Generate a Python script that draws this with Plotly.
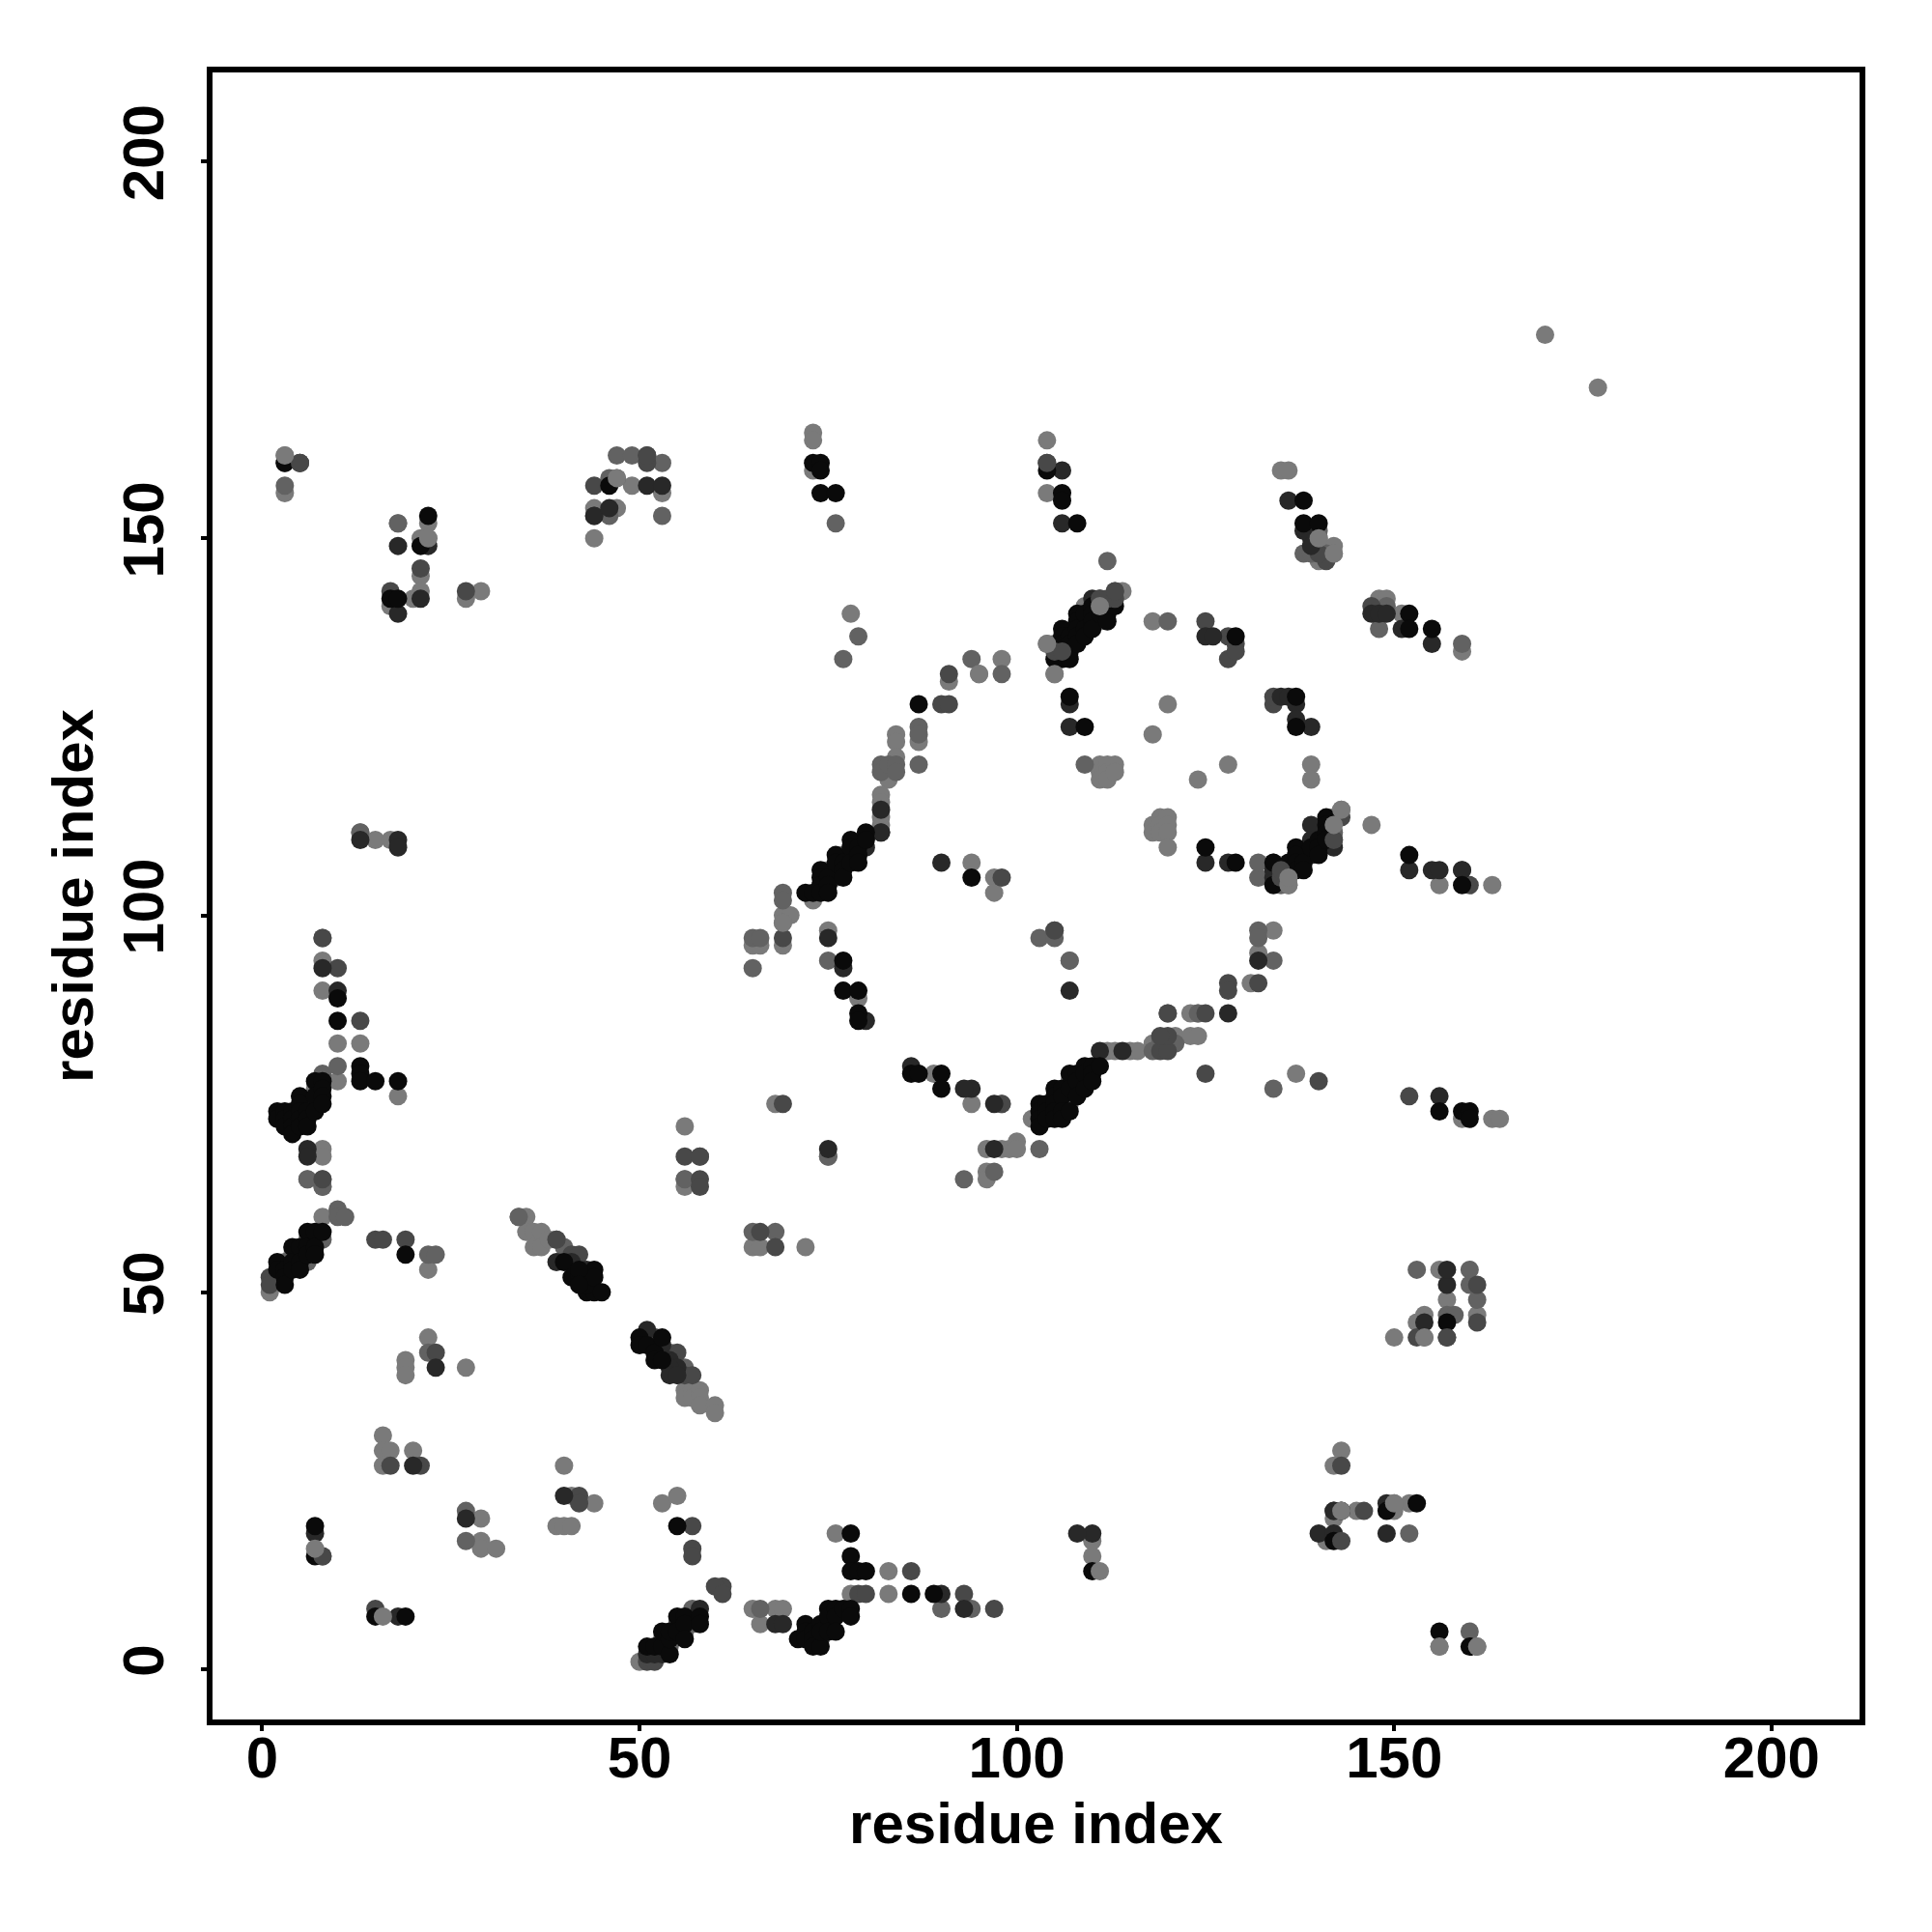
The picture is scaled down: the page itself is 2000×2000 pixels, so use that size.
import plotly.graph_objects as go

axis_ticks = [0, 50, 100, 150, 200]
axis_title = "residue index"

shade_levels = [122, 98, 72, 40, 10]

contacts_light = [
 (1,50),(8,60),(22,53),(22,44),(19,41),(19,40),(19,39),(27,40),(16,31),(16,29),(16,27),(17,29),(20,29),
 (29,20),(29,17),(29,16),(31,16),(40,27),(41,23),(39,19),(40,19),(41,19),(44,22),(53,22),(55,23),(34,60),(35,60),
 (35,58),(36,58),(36,56),(37,58),(37,56),(38,57),(56,37),(56,36),(57,37),(57,36),(58,37),(58,36),(58,35),(60,35),(60,34),
 (65,56),(66,56),(72,56),(50,1),(65,8),(66,6),(68,8),(69,8),(76,18),(78,10),(83,13),(83,10),(110,15),(110,17),
 (8,94),(8,90),(10,83),(13,83),(10,78),(18,76),(13,111),(15,110),(17,110),(8,69),(8,68),(6,65),(8,64),
 (56,72),(56,65),(56,64),(65,96),(66,96),(69,100),(70,100),(69,99),(69,96),(73,102),(75,98),(79,89),(89,79),(94,75),(98,75),(68,75),
 (75,68),(96,69),(98,69),(99,69),(100,70),(100,69),(96,66),(96,65),(102,73),(112,82),(113,82),(115,82),(116,82),
 (118,83),(121,84),(123,84),(124,84),(123,87),(124,87),(131,91),(132,95),(134,98),(137,79),(136,104),(136,105),
 (147,112),(156,104),(163,104),(163,73),(164,73),(159,73),(134,107),
 (107,94),(97,105),(97,103),(94,107),(118,139),(120,128),(118,124),(124,118),(128,120),(139,120),(139,118),
 (84,124),(84,123),(87,123),(83,118),(84,121),(82,116),(82,115),(82,113),(82,112),(78,140),
 (73,164),(73,163),(73,159),(104,163),(104,156),(105,132),(95,132),(98,134),(91,131),
 (111,120),(111,119),(111,118),(112,120),(112,119),(112,118),(113,120),(113,119),(114,143),(104,136),
 (118,112),(118,111),(119,113),(119,112),(119,111),(120,113),(120,112),(120,111),(120,109),
 (135,159),(136,159),(140,150),(140,149),(140,147),(142,149),(142,148),(148,142),(149,142),(148,141),(151,140),(159,135),
 (3,156),(18,152),(22,152),(22,150),(21,150),(21,145),(21,143),(17,141),(20,142),(27,142),(29,143),
 (44,154),(44,150),(47,154),(49,157),(53,156),(3,161),
 (143,114),(142,113),(142,111),(143,29),(142,27),(145,21),(142,20),(141,17),(150,22),(150,21),(152,22),(157,49),(161,47),
 (150,44),(154,44),(154,47),(156,53),(153,46),(156,3),(161,3),(177,170),(170,177),
 (7,77),(7,75),(4,55),(6,57),(5,55),(7,57),(77,108),(75,106),(107,78),(106,75),(108,77),(111,139),(109,141),
]

contacts_mid = [
 (10,61),(10,60),(22,42),(22,55),(23,55),(11,60),(27,21),(27,17),(34,60),(39,57),(40,56),(52,44),(54,42),(56,40),
 (65,58),(68,58),(66,8),(90,8),(94,8),(8,79),(10,80),(13,111),(56,65),(58,68),(69,103),(65,97),(65,93),(66,97),
 (75,94),(69,102),(103,97),(105,97),(107,94),(132,98),(134,94),(132,105),(132,107),(105,98),
 (124,87),(109,120),(103,69),(97,66),(93,65),(118,82),(121,83),(119,83),(120,87),(57,8),(57,6),
 (77,134),(79,137),(87,125),(87,124),(87,120),(82,120),(82,119),(83,120),(84,120),(94,134),(98,132),(120,139),(105,136),
 (3,160),(3,157),(5,160),(18,152),(46,158),(47,158),(46,153),(47,161),(49,161),(53,160),(53,153),(159,136),(148,138),(149,141),
 (138,148),(139,148),(141,148),(132,97),(153,53),(160,53),(160,51),(161,49),(157,47),(158,47),(143,21),(152,18),(160,5),
 (76,152),(113,142),(112,147),(84,119),(75,68),(6,65),(8,65),(8,64),(142,111),(135,104),(8,97),(134,77),(140,151),
 (53,4),(55,6),(57,7),(54,3),(56,5),(3,54),(6,54),(8,57),(78,108),(76,106),(76,105),(107,75),(109,78),
]

contacts_dark = [
 (1,52),(1,51),(15,8),(8,15),(15,57),(16,57),(19,57),(23,42),(17,27),(21,27),(42,23),(42,22),(41,55),(42,55),(39,57),
 (52,44),(55,42),(56,39),(57,39),(57,19),(57,16),(57,15),(61,11),(60,11),(51,1),(52,1),(61,10),(66,58),(68,56),
 (86,13),(79,10),(80,10),(93,10),(97,8),(8,97),(10,93),(13,86),(56,68),(58,65),(58,64),(58,68),(8,65),(69,75),(69,97),
 (98,105),(105,98),(98,75),(120,87),(125,87),(128,91),(128,90),(132,91),(119,82),(120,82),(120,84),(119,84),(125,79),(140,78),
 (51,161),(51,160),(44,157),(44,153),(17,143),(21,146),(27,143),(5,160),(104,160),(90,128),(91,128),(91,132),(113,143),(111,142),
 (125,139),(128,134),(82,111),(143,113),(142,110),(135,105),(140,111),(135,106),(134,128),(134,129),(161,51),(157,44),(153,44),(161,46),(146,21),
 (143,27),(160,104),(147,141),(141,147),(140,148),(129,136),(129,135),(128,137),(159,106),(152,76),
]

contacts_dark_strong = [
 (7,18),(18,7),(20,27),(27,20),(23,40),(40,23),(39,54),(43,53),(41,54),(43,52),(51,45),(53,43),(54,41),(55,40),(54,40),(54,39),(55,39),
 (53,2),(51,2),(52,2),(74,4),(58,8),(68,6),(69,6),(90,10),(93,8),(110,18),(108,18),(149,22),(142,21),(140,18),(142,18),(149,18),
 (13,110),(18,110),(18,109),(8,93),(10,90),(6,69),(6,68),(97,69),(97,75),(94,77),(93,77),(86,80),(80,86),(75,69),(75,97),(77,93),(90,107),(107,90),
 (128,87),(132,94),(111,82),(114,82),(136,155),(138,151),(139,150),(139,149),(147,140),(148,140),(149,140),(151,138),(155,136),
 (18,149),(18,140),(21,142),(22,149),(44,153),(46,154),(51,157),(53,157),(106,159),(106,152),(107,128),(107,125),(125,137),(126,137),(135,129),(136,129),(137,128),(137,126),(139,125),
 (128,107),(125,107),(134,106),(134,105),(139,112),(139,110),(139,108),(138,108),(142,109),(155,106),(156,106),(152,106),(159,106),(156,76),(157,51),(157,53),(154,46),(142,21),(143,21),
 (82,111),(82,114),(80,109),(110,142),(109,139),
]

contacts_black = [
 (2,54),(2,53),(3,53),(3,52),(3,51),(4,56),(4,54),(4,53),(5,56),(5,54),(5,53),(6,58),(6,56),(6,55),(7,58),(7,56),(7,55),(8,58),
 (7,19),(7,15),(15,7),(19,7),(19,55),(40,54),(41,52),(42,52),(43,50),(44,53),(44,50),(43,51),(44,52),(42,53),(42,51),(45,50),
 (50,44),(50,43),(51,43),(52,42),(52,41),(53,44),(53,41),(55,19),(51,3),(52,3),(53,3),(53,5),(54,2),(54,4),(54,5),(55,7),(55,5),(56,7),(56,6),(56,4),(58,7),(58,6),
 (71,4),(72,6),(72,5),(72,4),(73,5),(73,4),(73,3),(74,3),(74,6),(74,5),(75,8),(75,7),(75,5),(76,8),(76,7),(76,5),(77,8),(78,8),(78,7),
 (78,18),(78,15),(78,13),(79,13),(80,13),(86,10),(89,10),(110,13),(142,17),(153,22),(149,21),(156,5),(160,3),(157,46),
 (2,74),(2,73),(3,74),(3,73),(3,72),(4,74),(4,73),(4,72),(4,71),(5,76),(5,75),(5,74),(5,73),(5,72),(6,74),(6,73),(6,72),(7,78),(7,76),(7,74),(8,78),(8,77),(8,76),(8,75),
 (10,86),(10,89),(13,80),(13,79),(13,78),(15,78),(18,78),(90,79),(90,77),(77,90),(79,90),(79,87),(79,86),(77,94),(86,79),(87,79),
 (72,103),(73,103),(74,106),(74,105),(74,104),(74,103),(75,105),(75,104),(75,103),(76,108),(76,107),(77,107),(77,106),(77,105),(78,110),(78,109),(78,107),(79,109),(79,108),(79,107),(80,111),(80,110),
 (94,105),(87,128),(107,129),(109,125),(73,160),(74,160),(74,159),(74,156),(76,156),(104,159),(106,156),(106,155),(108,152),
 (106,138),(106,137),(106,136),(106,135),(106,134),(105,134),(107,137),(107,136),(107,135),(107,134),(108,140),(108,139),(108,138),(108,137),(108,136),(109,140),(109,138),(109,137),(110,141),(110,140),(110,139),(110,138),(111,141),(111,140),(112,141),(112,140),(112,139),(113,141),
 (129,137),(125,109),(129,107),(137,129),(137,125),(138,155),(138,152),(140,152),(152,140),(152,138),(155,138),(152,108),(156,74),(159,104),(159,74),(160,74),(160,73),
 (103,75),(103,74),(103,73),(103,72),(104,75),(104,74),(104,73),(105,77),(105,76),(105,75),(105,74),(105,73),(106,77),(106,76),(106,74),(106,73),(107,79),(107,77),(107,74),(108,79),(108,78),(108,76),(109,80),(109,79),(109,77),(110,80),(110,79),(110,78),(111,80),
 (134,107),(134,104),(136,107),(137,109),(137,108),(137,107),(137,106),(138,107),(138,106),(139,109),(140,110),(140,109),(140,108),(141,113),(141,112),(141,111),(141,110),
 (22,153),(21,149),(17,142),(18,142),(46,157),(3,160),
]

contacts_top_light = [(16,7),(7,16),(69,99),(3,161),(161,3),(154,44),(150,22),(143,21),(95,132),(140,150),(47,158),(22,150),(156,3),(142,148),(111,13),
 (104,136),(105,132),(111,141),(143,114),(142,112),(136,104),(136,105)]
contacts_top_dark = [(8,15),(157,44),(143,17),(5,160),(104,160),(51,161),(105,135),(106,135),(111,142),(112,142),(113,142),(113,143),(135,105),(135,106),(142,110)]

layers = [
 (contacts_light, shade_levels[0]), (contacts_mid, shade_levels[1]), (contacts_dark, shade_levels[2]),
 (contacts_dark_strong, shade_levels[3]), (contacts_black, shade_levels[4]),
 (contacts_top_dark, shade_levels[2]), (contacts_top_light, shade_levels[0]),
]

fig = go.Figure()
for pts, g in layers:
    fig.add_trace(go.Scatter(
        x=[p[0] for p in pts], y=[p[1] for p in pts], mode="markers",
        marker=dict(size=19, color=f"rgb({g},{g},{g})", line=dict(width=0)),
        showlegend=False, hoverinfo="skip", cliponaxis=True))

bold = dict(family="Liberation Sans", size=60, color="black", weight="bold")
common = dict(
    tickvals=axis_ticks, ticktext=[str(t) for t in axis_ticks],
    showgrid=False, zeroline=False, showline=True, linecolor="black", linewidth=6, mirror=True,
    ticks="outside", ticklen=6, tickwidth=4, tickcolor="black",
    tickfont=bold,
)
fig.update_layout(
    width=2000, height=2000, autosize=False,
    margin=dict(l=212, r=83, t=67, b=228, pad=0),
    plot_bgcolor="white", paper_bgcolor="white",
    xaxis=dict(range=[-6.58, 211.67], ticklabelstandoff=-24, **common,
               title=dict(text=axis_title, standoff=16, font=bold)),
    yaxis=dict(range=[-6.66, 211.8], tickangle=-90, ticklabelstandoff=15, **common,
               title=dict(text=axis_title, standoff=1, font=bold)),
)
fig.write_html("out.html")
